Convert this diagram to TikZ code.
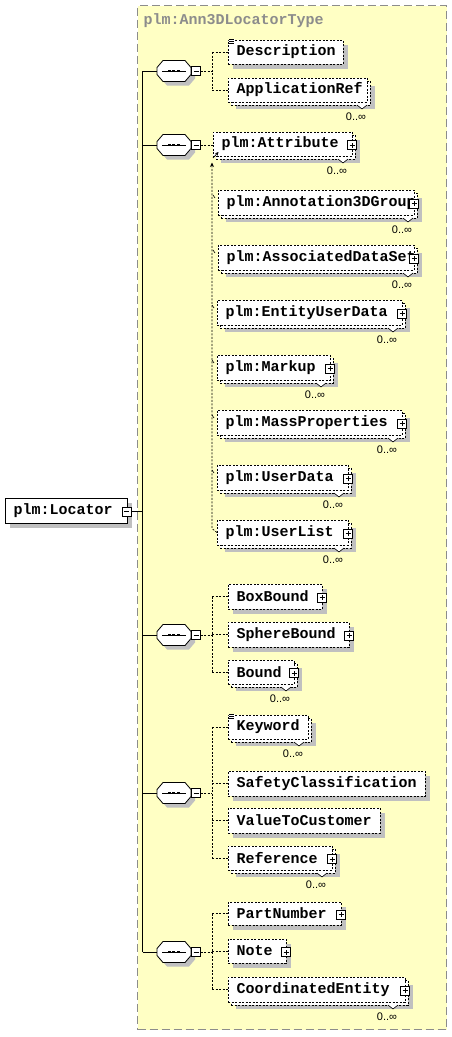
\documentclass[tikz,border=0pt]{standalone}
\usepackage{fontspec}
\newfontfamily\xmono{Liberation Mono}
\newfontfamily\xsans{Liberation Sans}
\usetikzlibrary{arrows.meta,calc}
\definecolor{bgyellow}{RGB}{255,255,196}
\definecolor{shadowgray}{RGB}{192,192,192}
\definecolor{framegray}{RGB}{140,140,140}
\tikzset{
  elbox/.style={draw, fill=white, dash pattern=on 2pt off 1.5pt, line width=0.8pt, anchor=north west, inner sep=0pt, outer sep=0pt},
  solidbox/.style={draw, fill=white, solid, line width=0.8pt, anchor=north west, inner sep=0pt, outer sep=0pt},
  eltext/.style={font=\xmono\bfseries\fontsize{15}{18}\selectfont, anchor=west, inner sep=0pt},
  multlabel/.style={font=\xsans\fontsize{11}{12}\selectfont, inner sep=0pt},
  pmbox/.style={draw, fill=white, solid, minimum size=9pt, inner sep=0pt, outer sep=0pt, line width=0.7pt},
  conn/.style={dash pattern=on 2pt off 1.5pt, line width=0.7pt},
  trunkline/.style={solid, line width=0.9pt},
}
\newcommand\singleel[6]{%
  \fill[shadowgray] (#2+5,#3+5) rectangle (#4+5,#5+5);
  \node[elbox, minimum width=#4pt-#2pt, minimum height=#5pt-#3pt] (#1) at (#2,#3) {};
  \node[eltext] (#1-t) at ([xshift=8.5pt]#1.west) {#6};
}
\newcommand\multiel[7]{%
  \fill[shadowgray] (#2+8,#3+8) rectangle (#4+8,#5+7);
  \node[elbox, minimum width=#4pt-#2pt, minimum height=#5pt-#3pt] (#1-b) at (#2+3,#3+3) {};
  \node[elbox, minimum width=#4pt-#2pt, minimum height=#5pt-#3pt] (#1) at (#2,#3) {};
  \node[eltext] (#1-t) at ([xshift=8.5pt]#1.west) {#6};
  \filldraw[fill=white, solid, line width=0.6pt] (#7+1,#5+3) -- (#7+6,#5+7) -- (#7+11,#5+3);
  \node[multlabel] (#1-m) at (#7,#5+14.5) {0..∞};
}
\newcommand\plusel[1]{%
  \node[pmbox] (#1-p) at ([yshift=-1pt]#1.east) {};
  \draw[line width=0.7pt] ([xshift=2pt]#1-p.west) -- ([xshift=-2pt]#1-p.east)
    ([yshift=2pt]#1-p.south) -- ([yshift=-2pt]#1-p.north);
}
\newcommand\docicon[1]{%
  \fill[white] ([xshift=0.5pt,yshift=1.5pt]#1.north west) rectangle ([xshift=6.5pt,yshift=-4pt]#1.north west);
  \draw[line width=0.6pt] ([xshift=1pt,yshift=1pt]#1.north west) -- ++(5,0)
    ([xshift=1pt,yshift=-1pt]#1.north west) -- ++(5,0)
    ([xshift=1pt,yshift=-3pt]#1.north west) -- ++(5,0);
}
\newcommand\seqnode[2]{%
  \fill[shadowgray] (161,#2+0.5) -- (167,#2-6.5) -- (189,#2-6.5) -- (195,#2+0.5) -- (195,#2+7.5) -- (189,#2+14.5) -- (167,#2+14.5) -- (161,#2+7.5) -- cycle;
  \filldraw[fill=white, solid, line width=0.8pt] (157,#2-3.5) -- (163,#2-10.5) -- (185,#2-10.5) -- (191,#2-3.5) -- (191,#2+3.5) -- (185,#2+10.5) -- (163,#2+10.5) -- (157,#2+3.5) -- cycle;
  \node[minimum width=34pt, minimum height=21pt, inner sep=0pt, outer sep=0pt] (#1) at (174,#2) {};
  \draw[line width=0.8pt] (162,#2) -- (186,#2);
  \foreach \dx in {169,173.5,178} {\fill (\dx-1.5,#2-1.3) rectangle (\dx+1.5,#2+1.3);}
  \node[pmbox] (#1-m) at (196,#2) {};
  \draw[line width=0.7pt] ([xshift=2pt]#1-m.west) -- ([xshift=-2pt]#1-m.east);
}
\newcommand\subtick[1]{%
  \draw[line width=0.6pt] ([xshift=-5pt,yshift=-5pt]#1.north west) -- ([xshift=-3pt,yshift=-8pt]#1.north west);
}
\begin{document}
\begin{tikzpicture}[x=1pt,y=-1pt]
\useasboundingbox (0,0) rectangle (452,1037);
% frame
\node[draw=framegray, fill=bgyellow, dash pattern=on 8pt off 4pt, line width=1.2pt, anchor=north west, minimum width=309pt, minimum height=1024pt, inner sep=0pt] (frame) at (137,5) {};
\node[eltext, text=framegray] (title) at (143.5,21) {plm:Ann3DLocatorType};

% root
\fill[shadowgray] (10,503) rectangle (132,528);
\node[solidbox, minimum width=122pt, minimum height=25pt] (loc) at (5,498) {};
\node[eltext] (loc-t) at ([xshift=8.5pt]loc.west) {plm:Locator};
\node[pmbox] (loc-m) at (126.5,511.5) {};
\draw[line width=0.7pt] ([xshift=2pt]loc-m.west) -- ([xshift=-2pt]loc-m.east);
\coordinate (trunk) at (142.5,511.5);
\coordinate (gx) at (212,0);

% sequences
\seqnode{s1}{71}
\seqnode{s2}{145}
\seqnode{s3}{635}
\seqnode{s4}{793}
\seqnode{s5}{952}

% group 1
\singleel{desc}{228}{40}{343}{64}{Description}
\docicon{desc}
\multiel{appref}{228}{78}{367}{102}{ApplicationRef}{356}

% group 2
\multiel{attr}{213}{132}{352}{156}{plm:Attribute}{337}
\plusel{attr}
\multiel{annot}{218}{190}{414}{215}{plm:Annotation3DGroup}{402}
\plusel{annot}
\multiel{assoc}{218}{245}{414}{270}{plm:AssociatedDataSet}{402}
\plusel{assoc}
\multiel{euser}{217}{300}{402}{325}{plm:EntityUserData}{387}
\plusel{euser}
\multiel{markup}{217}{355}{330}{380}{plm:Markup}{315}
\plusel{markup}
\multiel{mass}{217}{410}{402}{435}{plm:MassProperties}{387}
\plusel{mass}
\multiel{udata}{217}{465}{348}{490}{plm:UserData}{333}
\plusel{udata}
\multiel{ulist}{217}{520}{348}{545}{plm:UserList}{333}
\plusel{ulist}
\subtick{annot}
\subtick{assoc}
\subtick{euser}
\subtick{markup}
\subtick{mass}
\subtick{udata}

% group 3
\singleel{boxb}{228}{584}{322}{609}{BoxBound}
\plusel{boxb}
\singleel{sphb}{228}{622}{349}{647}{SphereBound}
\plusel{sphb}
\multiel{bound}{228}{660}{294}{684}{Bound}{280}
\plusel{bound}

% group 4
\multiel{kw}{228}{715}{308}{739}{Keyword}{293}
\docicon{kw}
\singleel{safety}{228}{771}{425}{796}{SafetyClassification}
\singleel{value}{228}{808}{380}{833}{ValueToCustomer}
\multiel{ref}{228}{846}{332}{870}{Reference}{316}
\plusel{ref}

% group 5
\singleel{part}{228}{902}{341}{925}{PartNumber}
\plusel{part}
\singleel{note}{228}{939}{286}{963}{Note}
\plusel{note}
\multiel{coord}{228}{977}{405}{1002}{CoordinatedEntity}{387}
\plusel{coord}

% trunk connectors
\draw[trunkline] (loc-m.east) -- (trunk);
\draw[trunkline] (s1.west -| trunk) -- (s5.west -| trunk);
\foreach \s in {s1,s2,s3,s4,s5} {\draw[trunkline] (\s.west -| trunk) -- (\s.west);}

% group 1 connectors
\draw[conn] (s1-m.east) -- (s1-m.east -| gx);
\draw[conn] (desc.west -| gx) -- (appref.west -| gx);
\foreach \c in {desc,appref} {\draw[conn] (\c.west -| gx) -- (\c.west);}

% group 2 connectors
\draw[conn] (s2-m.east) -- (s2-m.east -| attr.west);
\draw[conn, -{Stealth[length=4.5pt,width=4pt]}] (ulist.west) -- ([xshift=-5pt,yshift=4pt]ulist.west) -- ([xshift=-1pt,yshift=-6.5pt]attr.south west);
\draw[line width=0.7pt, -{Stealth[length=3.5pt,width=3.5pt]}] ([yshift=-2pt]attr.south west) -- ([xshift=5.5pt,yshift=4pt]attr.south west);

% group 3 connectors
\draw[conn] (s3-m.east) -- (s3-m.east -| gx);
\draw[conn] (boxb.west -| gx) -- (bound.west -| gx);
\foreach \c in {boxb,sphb,bound} {\draw[conn] (\c.west -| gx) -- (\c.west);}

% group 4 connectors
\draw[conn] (s4-m.east) -- (s4-m.east -| gx);
\draw[conn] (kw.west -| gx) -- (ref.west -| gx);
\foreach \c in {kw,safety,value,ref} {\draw[conn] (\c.west -| gx) -- (\c.west);}

% group 5 connectors
\draw[conn] (s5-m.east) -- (s5-m.east -| gx);
\draw[conn] (part.west -| gx) -- (coord.west -| gx);
\foreach \c in {part,note,coord} {\draw[conn] (\c.west -| gx) -- (\c.west);}
\end{tikzpicture}
\end{document}
